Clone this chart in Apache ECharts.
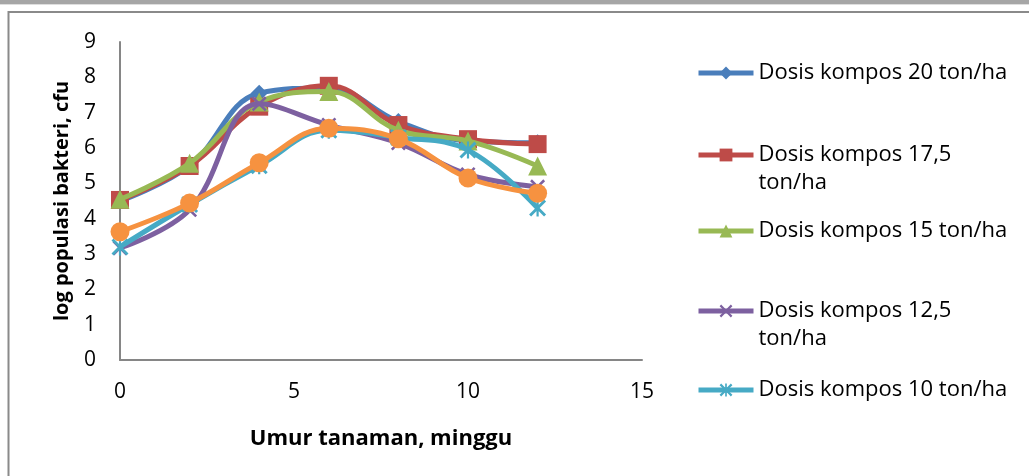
<!DOCTYPE html>
<html>
<head>
<meta charset="utf-8">
<script src="https://cdn.jsdelivr.net/npm/echarts@6/dist/echarts.min.js"></script>
<style>
  html, body { margin: 0; padding: 0; background: #ffffff; }
  #chart { width: 1029px; height: 476px; }
</style>
</head>
<body>
<div id="chart"></div>
<script>
// Weeks after planting (x values shared by every series)
const weeks = [0, 2, 4, 6, 8, 10, 12];

// log bacterial population (cfu) per compost dose
const dose20 = [4.5, 5.5, 7.55, 7.7, 6.75, 6.2, 6.15];
const dose17_5 = [4.53, 5.49, 7.17, 7.76, 6.65, 6.25, 6.11];
const dose15 = [4.55, 5.57, 7.3, 7.6, 6.5, 6.2, 5.49];
const dose12_5 = [3.17, 4.25, 7.25, 6.65, 6.14, 5.25, 4.9];
const dose10 = [3.2, 4.4, 5.5, 6.5, 6.3, 5.94, 4.3];
const dose0 = [3.63, 4.44, 5.58, 6.56, 6.26, 5.15, 4.72];

const seriesNames = [
  'Dosis kompos 20 ton/ha',
  'Dosis kompos 17,5 ton/ha',
  'Dosis kompos 15 ton/ha',
  'Dosis kompos 12,5 ton/ha',
  'Dosis kompos 10 ton/ha',
  'Dosis kompos 0 ton/ha'
];

const xTicks = { min: 0, max: 15, interval: 5 };
const yTicks = { min: 0, max: 9, interval: 1 };

const FONT = '"Open Sans", "Liberation Sans", sans-serif';

const crossPath = 'path://M0,1.2 L1.2,0 L5,3.8 L8.8,0 L10,1.2 L6.2,5 L10,8.8 L8.8,10 L5,6.2 L1.2,10 L0,8.8 L3.8,5 Z';
const starPath = 'path://M0,1.2 L1.2,0 L5,3.8 L8.8,0 L10,1.2 L6.2,5 L10,8.8 L8.8,10 L5,6.2 L1.2,10 L0,8.8 L3.8,5 Z M4.35,0 L5.65,0 L5.65,10 L4.35,10 Z';

const styles = [
  { color: '#4A7EBB', symbol: 'diamond', size: 17 },
  { color: '#BE4B48', symbol: 'rect', size: 18 },
  { color: '#98B954', symbol: 'triangle', size: 19 },
  { color: '#7D60A0', symbol: crossPath, size: 15 },
  { color: '#46AAC5', symbol: starPath, size: 17 },
  { color: '#F69240', symbol: 'circle', size: 19 }
];

const values = [dose20, dose17_5, dose15, dose12_5, dose10, dose0];

const series = values.map((vals, i) => ({
  name: seriesNames[i],
  type: 'line',
  smooth: 0.4,
  data: weeks.map((w, k) => [w, vals[k]]),
  symbol: styles[i].symbol,
  symbolSize: styles[i].size,
  showAllSymbol: true,
  lineStyle: { color: styles[i].color, width: 5 },
  itemStyle: { color: styles[i].color, borderWidth: 0 },
  emphasis: { disabled: true },
  z: 2 + i
}));

// Legend entries on the right: the key sits level with the first text line.
// Wrapped entries get an empty leading line so the key stays on line one.
const legendCentres = [73, 155, 231, 311, 390];
const wrapped = { 'Dosis kompos 17,5 ton/ha': true, 'Dosis kompos 12,5 ton/ha': true };

const legends = legendCentres.map((cy, i) => {
  const name = seriesNames[i];
  const two = !!wrapped[name];
  return {
    left: 696,
    top: two ? cy - 42 : cy - 14,
    padding: 0,
    itemWidth: 55,
    itemHeight: 16,
    itemGap: 0,
    selectedMode: false,
    data: [name],
    lineStyle: { width: 5 },
    formatter: n => (wrapped[n] ? ' \n' + n.replace(' ton/ha', '\nton/ha') : n),
    textStyle: {
      fontFamily: FONT,
      fontSize: 22,
      lineHeight: 28,
      color: '#000000'
    }
  };
});

const chart = echarts.init(document.getElementById('chart'), null, { renderer: 'canvas' });

chart.setOption({
  animation: false,
  backgroundColor: '#ffffff',
  graphic: [
    { type: 'rect', shape: { x: 0, y: 0, width: 1029, height: 4 }, style: { fill: '#a6a6a6' }, silent: true },
    { type: 'rect', shape: { x: 0, y: 4, width: 1029, height: 1 }, style: { fill: '#dedede' }, silent: true },
    { type: 'rect', shape: { x: 8.5, y: 12, width: 1200, height: 600 }, style: { fill: null, stroke: '#8a8a8a', lineWidth: 2 }, silent: true }
  ],
  grid: { left: 120, right: 387, top: 42, bottom: 116, containLabel: false },
  legend: legends,
  xAxis: {
    type: 'value',
    min: xTicks.min,
    max: xTicks.max,
    interval: xTicks.interval,
    name: 'Umur tanaman, minggu',
    nameLocation: 'middle',
    nameGap: 68,
    nameTextStyle: { fontFamily: FONT, fontSize: 22, fontWeight: 'bold', color: '#000000' },
    axisLine: { show: true, onZero: false, lineStyle: { color: '#868686', width: 2 } },
    axisTick: { show: false },
    splitLine: { show: false },
    axisLabel: { fontFamily: FONT, fontSize: 21, color: '#000000', margin: 22 }
  },
  yAxis: {
    type: 'value',
    min: yTicks.min,
    max: yTicks.max,
    interval: yTicks.interval,
    name: 'log populasi bakteri, cfu',
    nameLocation: 'middle',
    nameGap: 48,
    nameTextStyle: { fontFamily: FONT, fontSize: 20, fontWeight: 'bold', color: '#000000' },
    axisLine: { show: true, onZero: false, lineStyle: { color: '#868686', width: 2 } },
    axisTick: { show: false },
    splitLine: { show: false },
    axisLabel: { fontFamily: FONT, fontSize: 21, color: '#000000', margin: 24 }
  },
  series: series
});
</script>
</body>
</html>
